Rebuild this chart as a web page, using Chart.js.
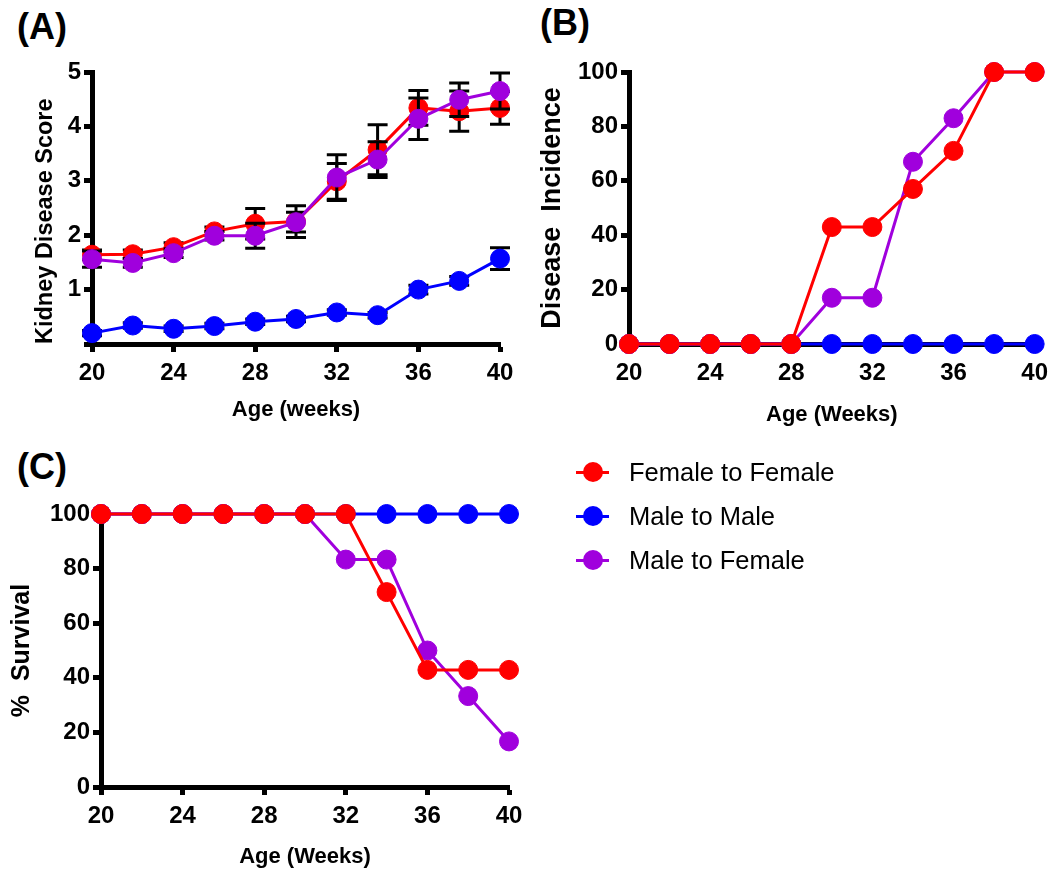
<!DOCTYPE html>
<html>
<head>
<meta charset="utf-8">
<script src="https://cdn.jsdelivr.net/npm/chart.js@4.4.1/dist/chart.umd.min.js"></script>
<style>
  html, body { margin: 0; padding: 0; background: #fff; }
  body { width: 1055px; height: 872px; position: relative; overflow: hidden;
         font-family: "Liberation Sans", Arial, sans-serif; }
  .cv { position: absolute; }
  .plabel { position: absolute; font-weight: bold; font-size: 36px; line-height: 36px; color: #000; }
  .leg { position: absolute; left: 0; width: 400px; height: 30px; }
  .leg .ln { position: absolute; left: 576px; width: 33px; height: 3px; top: 13.5px; }
  .leg .dot { position: absolute; left: 583px; width: 20px; height: 20px; border-radius: 50%; top: 5px; }
  .leg .tx { position: absolute; left: 629px; top: 0; font-size: 25.5px; line-height: 30px; color: #000; white-space: nowrap; }
</style>
</head>
<body>
<div class="plabel" style="left:17px; top:9px;">(A)</div>
<div class="plabel" style="left:540px; top:5px;">(B)</div>
<div class="plabel" style="left:17px; top:449px;">(C)</div>

<canvas id="cA" class="cv" width="530" height="430" style="left:0px; top:0px;"></canvas>
<canvas id="cB" class="cv" width="525" height="430" style="left:530px; top:0px;"></canvas>
<canvas id="cC" class="cv" width="530" height="432" style="left:0px; top:440px;"></canvas>
<div id="legend"></div>

<script>
// ---------------- DATA ----------------
const weeks = [20, 22, 24, 26, 28, 30, 32, 34, 36, 38, 40];
const xTickValues = [20, 24, 28, 32, 36, 40];

const seriesNames  = ['Female to Female', 'Male to Male', 'Male to Female'];
const seriesColors = ['#FF0000', '#0000FF', '#A000DD'];

// (A) Kidney disease score (mean) and error (SEM)
const scoreFF    = [1.64, 1.65, 1.78, 2.07, 2.21, 2.25, 2.99, 3.57, 4.34, 4.28, 4.34];
const scoreFFerr = [0.09, 0.08, 0.08, 0.08, 0.28, 0.29, 0.33, 0.46, 0.32, 0.37, 0.30];
const scoreMM    = [0.20, 0.34, 0.28, 0.33, 0.41, 0.46, 0.58, 0.53, 1.00, 1.16, 1.57];
const scoreMMerr = [0.05, 0.05, 0.05, 0.05, 0.05, 0.05, 0.05, 0.05, 0.08, 0.08, 0.20];
const scoreMF    = [1.56, 1.49, 1.67, 1.99, 1.99, 2.24, 3.06, 3.39, 4.14, 4.49, 4.65];
const scoreMFerr = [0.15, 0.08, 0.08, 0.08, 0.23, 0.18, 0.42, 0.33, 0.38, 0.31, 0.33];

// (B) Disease incidence (%)
const incFF = [0, 0, 0, 0, 0, 43, 43, 57, 71, 100, 100];
const incMM = [0, 0, 0, 0, 0, 0, 0, 0, 0, 0, 0];
const incMF = [0, 0, 0, 0, 0, 17, 17, 67, 83, 100, 100];

// (C) % Survival
const survFF = [100, 100, 100, 100, 100, 100, 100, 71.4, 42.9, 42.9, 42.9];
const survMM = [100, 100, 100, 100, 100, 100, 100, 100, 100, 100, 100];
const survMF = [100, 100, 100, 100, 100, 100, 83.3, 83.3, 50, 33.3, 16.7];

const yTicksScore = [0, 1, 2, 3, 4, 5];
const yTicksPct   = [0, 20, 40, 60, 80, 100];

// ---------------- HELPERS ----------------
const FONT = '"Liberation Sans", Arial, sans-serif';
const toXY = vals => vals.map((v, i) => ({ x: weeks[i], y: v }));

const errorBarPlugin = {
  id: 'errorBars',
  beforeDatasetDraw(chart, args) {
    const ds = chart.data.datasets[args.index];
    if (!ds.errors) return;
    const xs = chart.scales.x, ys = chart.scales.y, ctx = chart.ctx;
    ctx.save();
    ctx.strokeStyle = '#000';
    ctx.lineWidth = 3;
    ds.data.forEach((p, i) => {
      const e = ds.errors[i];
      const px = xs.getPixelForValue(p.x);
      const yt = ys.getPixelForValue(p.y + e);
      const yb = ys.getPixelForValue(p.y - e);
      ctx.beginPath();
      ctx.moveTo(px, yt); ctx.lineTo(px, yb);
      ctx.moveTo(px - 10, yt); ctx.lineTo(px + 10, yt);
      ctx.moveTo(px - 10, yb); ctx.lineTo(px + 10, yb);
      ctx.stroke();
    });
    ctx.restore();
  }
};

function makeDataset(name, color, vals, order, errors) {
  const d = {
    label: name,
    data: toXY(vals),
    borderColor: color,
    backgroundColor: color,
    borderWidth: 3,
    pointRadius: 9.5,
    pointHoverRadius: 9.5,
    pointBorderWidth: 1,
    pointBackgroundColor: color,
    pointBorderColor: color,
    tension: 0,
    clip: false,
    order: order
  };
  if (errors) d.errors = errors;
  return d;
}

function axisCommon() {
  return {
    grid: { display: true, drawOnChartArea: false, drawTicks: true, tickLength: 8,
            tickWidth: 5, tickColor: '#000' },
    border: { display: true, width: 5, color: '#000' }
  };
}

function makeOptions(o) {
  return {
    responsive: false,
    animation: false,
    events: [],
    layout: { padding: o.padding },
    plugins: { legend: { display: false }, tooltip: { enabled: false } },
    scales: {
      x: Object.assign(axisCommon(), {
        type: 'linear', min: 20, max: 40,
        afterBuildTicks: s => { s.ticks = xTickValues.map(v => ({ value: v })); },
        afterFit: s => { s.height = o.xHeight; },
        ticks: { color: '#000', padding: 7, maxRotation: 0,
                 font: { family: FONT, size: 24, weight: 'bold' } },
        title: { display: true, text: o.xTitle, color: '#000',
                 font: { family: FONT, size: 22, weight: 'bold' },
                 padding: { top: 0, bottom: o.xTitlePad } }
      }),
      y: Object.assign(axisCommon(), {
        type: 'linear', min: o.yMin, max: o.yMax,
        afterBuildTicks: s => { s.ticks = o.yTicks.map(v => ({ value: v })); },
        afterFit: s => { s.width = o.yWidth; },
        ticks: { color: '#000', padding: 3,
                 callback: o.yCallback || (v => v),
                 font: { family: FONT, size: 24, weight: 'bold' } },
        title: { display: true, text: o.yTitle, color: '#000', align: o.yAlign || 'center',
                 font: { family: FONT, size: o.yTitleSize, weight: 'bold' },
                 padding: { top: o.yTitlePad, bottom: 0 } }
      })
    }
  };
}

// ---------------- PANEL A ----------------
new Chart(document.getElementById('cA'), {
  type: 'line',
  data: { datasets: [
    makeDataset(seriesNames[0], seriesColors[0], scoreFF, 1, scoreFFerr),
    makeDataset(seriesNames[1], seriesColors[1], scoreMM, 2, scoreMMerr),
    makeDataset(seriesNames[2], seriesColors[2], scoreMF, 0, scoreMFerr)
  ]},
  options: makeOptions({
    padding: { top: 72, right: 30, left: 0, bottom: 0 },
    xHeight: 86, yWidth: 92, yMin: 0, yMax: 5, yTicks: yTicksScore,
    yCallback: v => (v === 0 ? '' : v),
    xTitle: 'Age (weeks)', xTitlePad: 7,
    yTitle: 'Kidney Disease Score', yTitlePad: 31, yTitleSize: 23.5, yAlign: 'start'
  }),
  plugins: [errorBarPlugin]
});

// ---------------- PANEL B ----------------
new Chart(document.getElementById('cB'), {
  type: 'line',
  data: { datasets: [
    makeDataset(seriesNames[0], seriesColors[0], incFF, 0),
    makeDataset(seriesNames[1], seriesColors[1], incMM, 2),
    makeDataset(seriesNames[2], seriesColors[2], incMF, 1)
  ]},
  options: makeOptions({
    padding: { top: 72, right: 18, left: 0, bottom: 0 },
    xHeight: 86, yWidth: 99, yMin: 0, yMax: 100, yTicks: yTicksPct,
    xTitle: 'Age (Weeks)', xTitlePad: 2,
    yTitle: 'Disease  Incidence', yTitlePad: 6, yTitleSize: 27
  })
});

// ---------------- PANEL C ----------------
new Chart(document.getElementById('cC'), {
  type: 'line',
  data: { datasets: [
    makeDataset(seriesNames[0], seriesColors[0], survFF, 0),
    makeDataset(seriesNames[1], seriesColors[1], survMM, 2),
    makeDataset(seriesNames[2], seriesColors[2], survMF, 1)
  ]},
  options: makeOptions({
    padding: { top: 74, right: 21, left: 0, bottom: 0 },
    xHeight: 85, yWidth: 101, yMin: 0, yMax: 100, yTicks: yTicksPct,
    xTitle: 'Age (Weeks)', xTitlePad: 2,
    yTitle: '%  Survival', yTitlePad: 7, yTitleSize: 25
  })
});

// ---------------- LEGEND ----------------
const legendRows = [472, 516, 560];
const legendEl = document.getElementById('legend');
seriesNames.forEach((name, i) => {
  const row = document.createElement('div');
  row.className = 'leg';
  row.style.top = (legendRows[i] - 15) + 'px';
  row.innerHTML = '<span class="ln" style="background:' + seriesColors[i] + '"></span>' +
                  '<span class="dot" style="background:' + seriesColors[i] + '"></span>' +
                  '<span class="tx">' + name + '</span>';
  legendEl.appendChild(row);
});
</script>
</body>
</html>
